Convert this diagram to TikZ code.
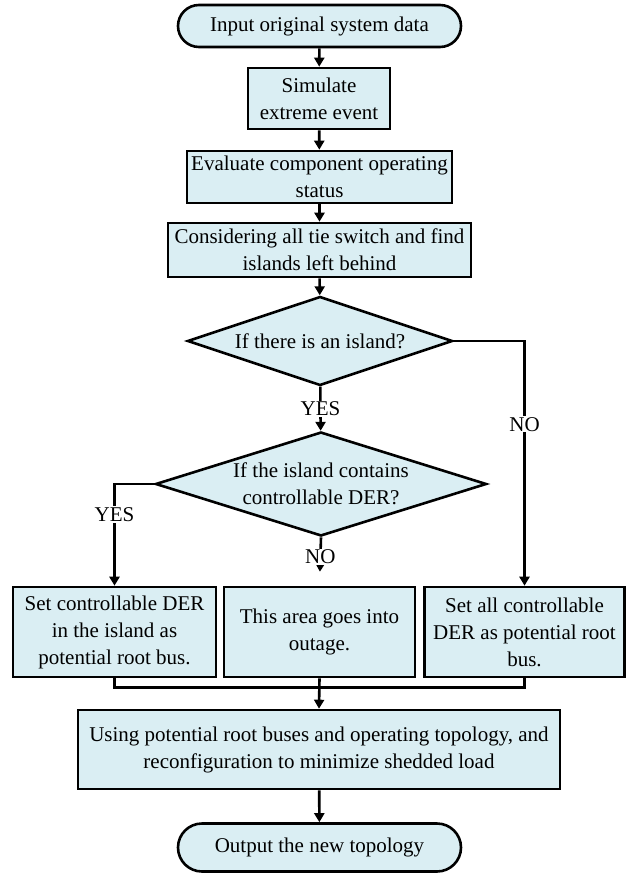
\documentclass[tikz,border=0pt]{standalone}
\usepackage{fontspec}
\setmainfont{Liberation Serif}
\usetikzlibrary{shapes.geometric,arrows.meta}
\definecolor{boxblue}{HTML}{DAEEF3}
\tikzset{
  base/.style={draw=black, line width=2.6pt, fill=boxblue, align=center, font=\fontsize{21}{27}\selectfont},
  proc/.style={base, rectangle, inner sep=2pt},
  term/.style={base, rectangle, rounded corners=21pt, inner sep=2pt},
  dec/.style={base, diamond, inner sep=0pt},
  lbl/.style={fill=white, inner sep=1pt, font=\fontsize{21}{27}\selectfont},
  line/.style={line width=2.6pt},
  arr/.style={line, -{Triangle[length=9pt,width=10pt]}}
}
\begin{document}
\begin{tikzpicture}[x=1pt,y=-1pt]
    \useasboundingbox (0,0) rectangle (629,874);

    % The main column
    \node[term, minimum width=283pt, minimum height=42pt] (start) at (319.5,26) {Input original system data};
    \node[proc, minimum width=142pt, minimum height=61pt] (sim) at (319,98.5) {Simulate\\extreme event};
    \node[proc, minimum width=265pt, minimum height=52pt] (eval) at (319.5,177) {Evaluate component operating\\status};
    \node[proc, minimum width=303pt, minimum height=54pt] (tie) at (319.5,250) {Considering all tie switch and find\\islands left behind};

    % The decisions
    \node[dec, aspect=3, minimum width=265pt, minimum height=89pt] (isl) at (320,341) {If there is an island?};
    \node[dec, aspect=3.2, minimum width=331pt, minimum height=104pt] (der) at (321,484) {If the island contains\\controllable DER?};

    % The three cases
    \node[proc, minimum width=203pt, minimum height=90pt] (setisl) at (114.5,632) {Set controllable DER\\in the island as\\potential root bus.};
    \node[proc, minimum width=191pt, minimum height=90pt] (outage) at (319.5,632) {This area goes into\\outage.};
    \node[proc, minimum width=200pt, minimum height=90pt] (setall) at (524.5,632) {Set all controllable\\DER as potential root\\bus.};

    % Reconfiguration and output
    \node[proc, minimum width=482pt, minimum height=79pt] (reconf) at (319,749.5) {Using potential root buses and operating topology, and\\reconfiguration to minimize shedded load};
    \node[term, minimum width=283pt, minimum height=48pt, rounded corners=24pt] (out) at (319.5,847.5) {Output the new topology};

    % Connectors
    \draw[arr] (start) -- (sim);
    \draw[arr] (sim) -- (eval);
    \draw[arr] (eval) -- (tie);
    \draw[arr] (tie) -- (isl);
    \draw[arr] (isl) -- (der) node[lbl, pos=0.5] {YES};
    \draw[arr] (isl.east) -| (setall.north) node[lbl, pos=0.67] {NO};
    \draw[arr] (der.west) -| (setisl.north) node[lbl, pos=0.65] {YES};
    \draw[arr, shorten >=14pt] (der.south) -- (outage.north) node[lbl, pos=0.4] {NO};

    % Merge of the three cases
    \draw[line] (setisl.south) -- ++(0,9) -| (setall.south);
    \draw[arr] (outage.south) -- (reconf.north);
    \draw[arr] (reconf) -- (out);
\end{tikzpicture}
\end{document}
